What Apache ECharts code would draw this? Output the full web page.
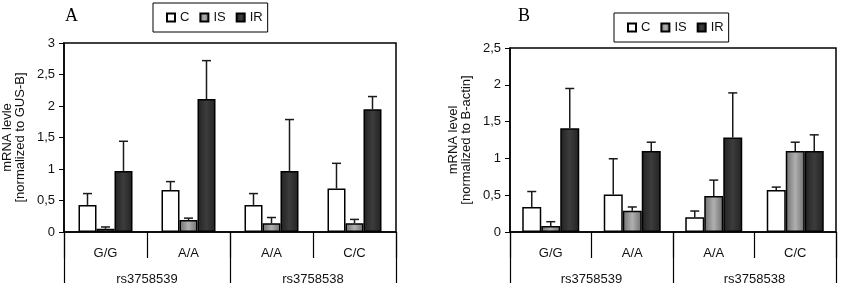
<!DOCTYPE html>
<html>
<head>
<meta charset="utf-8">
<script src="https://cdn.jsdelivr.net/npm/echarts@6/dist/echarts.min.js"></script>
<style>
  html, body { margin: 0; padding: 0; background: #fff; }
  #chart { width: 841px; height: 306px; }
</style>
</head>
<body>
<div id="chart"></div>
<script>
// categories
const genotypes = ['G/G', 'A/A', 'A/A', 'C/C']
const snps = ['rs3758539', 'rs3758538']
const seriesNames = ['C', 'IS', 'IR']

// panel A (normalized to GUS-B): means and top of error bar
const aC = [0.43, 0.665, 0.43, 0.69]
const aIS = [0.05, 0.19, 0.14, 0.14]
const aIR = [0.97, 2.11, 0.97, 1.95]
const aCTop = [0.61, 0.80, 0.61, 1.09]
const aISTop = [0.08, 0.22, 0.23, 0.20]
const aIRTop = [1.44, 2.72, 1.785, 2.15]

// panel B (normalized to B-actin)
const bC = [0.34, 0.51, 0.20, 0.57]
const bIS = [0.08, 0.29, 0.49, 1.10]
const bIR = [1.41, 1.10, 1.285, 1.10]
const bCTop = [0.55, 0.995, 0.285, 0.61]
const bISTop = [0.14, 0.34, 0.705, 1.22]
const bIRTop = [1.95, 1.22, 1.89, 1.32]

// y axis ticks
const yTicksA = [0, 0.5, 1, 1.5, 2, 2.5, 3]
const yTicksB = [0, 0.5, 1, 1.5, 2, 2.5]

const font = 'Liberation Sans, Arial, sans-serif'

// 柱子的样式
const styles = [
    { color: '#ffffff', borderColor: '#000', borderWidth: 1.5 },
    {
        color: {
            type: 'linear', x: 0, y: 0, x2: 1, y2: 0,
            colorStops: [
                { offset: 0, color: '#6e6e6e' },
                { offset: 0.5, color: '#b0b0b0' },
                { offset: 1, color: '#6e6e6e' }
            ]
        },
        borderColor: '#000', borderWidth: 1.5
    },
    {
        color: {
            type: 'linear', x: 0, y: 0, x2: 1, y2: 0,
            colorStops: [
                { offset: 0, color: '#222' },
                { offset: 0.5, color: '#3c3c3c' },
                { offset: 1, color: '#222' }
            ]
        },
        borderColor: '#000', borderWidth: 1.5
    }
]

function barSeries (name, k, values, xi, yi, bw) {
    return {
        name: name,
        type: 'bar',
        xAxisIndex: xi,
        yAxisIndex: yi,
        data: values,
        barWidth: bw,
        barGap: '0%',
        itemStyle: styles[k],
        emphasis: { disabled: true },
        z: 2
    }
}

// 误差线
function errSeries (k, values, tops, xi, yi, bw) {
    const off = (k - 1) * bw
    return {
        type: 'custom',
        xAxisIndex: xi,
        yAxisIndex: yi,
        data: values.map((v, i) => [i, v, tops[i]]),
        z: 3,
        renderItem: function (params, api) {
            const base = api.coord([api.value(0), api.value(1)])
            const top = api.coord([api.value(0), api.value(2)])
            const x = base[0] + off
            const st = { stroke: '#1a1a1a', lineWidth: 1.5 }
            return {
                type: 'group',
                children: [
                    { type: 'line', shape: { x1: x, y1: base[1], x2: x, y2: top[1] }, style: st },
                    { type: 'line', shape: { x1: x - 4.5, y1: top[1], x2: x + 4.5, y2: top[1] }, style: st }
                ]
            }
        }
    }
}

function catAxis (gi) {
    return {
        type: 'category',
        gridIndex: gi,
        data: genotypes,
        position: 'bottom',
        axisLine: { show: true, lineStyle: { color: '#000', width: 1.5 } },
        axisTick: { show: true, length: 26, lineStyle: { color: '#000', width: 1.2 } },
        axisLabel: { margin: 15, fontSize: 13, color: '#111', fontFamily: font }
    }
}

function groupAxis (gi) {
    return {
        type: 'category',
        gridIndex: gi,
        data: snps,
        position: 'bottom',
        axisLine: { show: false },
        axisTick: { show: true, length: 51, lineStyle: { color: '#000', width: 1.2 } },
        axisLabel: { margin: 41, fontSize: 13, color: '#111', fontFamily: font }
    }
}

function valAxis (gi, ticks, name) {
    return {
        type: 'value',
        gridIndex: gi,
        min: ticks[0],
        max: ticks[ticks.length - 1],
        interval: 0.5,
        name: name,
        nameLocation: 'middle',
        nameRotate: 90,
        nameGap: 37,
        nameTextStyle: { fontSize: 13, lineHeight: 13, color: '#111', fontFamily: font },
        axisLine: { show: true, lineStyle: { color: '#000', width: 1.5 } },
        axisTick: { show: true, length: 5, lineStyle: { color: '#000' } },
        splitLine: { show: false },
        axisLabel: {
            margin: 9, fontSize: 13, color: '#111', fontFamily: font,
            formatter: v => String(v).replace('.', ',')
        }
    }
}

function legend (left, top) {
    return {
        data: seriesNames,
        left: left,
        top: top,
        orient: 'horizontal',
        borderColor: '#000',
        borderWidth: 1,
        padding: [8, 5, 8, 13],
        itemWidth: 8,
        itemHeight: 8,
        itemGap: 10,
        icon: 'rect',
        selectedMode: false,
        textStyle: { fontSize: 13, color: '#111', fontFamily: font }
    }
}

const chart = echarts.init(document.getElementById('chart'))
chart.setOption({
    animation: false,
    title: [
        { text: 'A', left: 60, top: 2, textStyle: { fontFamily: 'Liberation Serif, serif', fontSize: 18, fontWeight: 'normal', color: '#000' } },
        { text: 'B', left: 513, top: 2, textStyle: { fontFamily: 'Liberation Serif, serif', fontSize: 18, fontWeight: 'normal', color: '#000' } }
    ],
    legend: [legend(153, 3), legend(614, 13)],
    grid: [
        { left: 62, right: 445, top: 43, bottom: 74, show: true, borderColor: '#000', borderWidth: 1.5, backgroundColor: 'transparent' },
        { left: 510, right: 5, top: 48, bottom: 74, show: true, borderColor: '#000', borderWidth: 1.5, backgroundColor: 'transparent' }
    ],
    xAxis: [catAxis(0), groupAxis(0), catAxis(1), groupAxis(1)],
    yAxis: [
        valAxis(0, yTicksA, 'mRNA levle\n[normalized to GUS-B]'),
        valAxis(1, yTicksB, 'mRNA level\n[normalized to B-actin]')
    ],
    series: [
        barSeries('C', 0, aC, 0, 0, 18),
        barSeries('IS', 1, aIS, 0, 0, 18),
        barSeries('IR', 2, aIR, 0, 0, 18),
        errSeries(0, aC, aCTop, 0, 0, 18),
        errSeries(1, aIS, aISTop, 0, 0, 18),
        errSeries(2, aIR, aIRTop, 0, 0, 18),
        barSeries('C', 0, bC, 2, 1, 19),
        barSeries('IS', 1, bIS, 2, 1, 19),
        barSeries('IR', 2, bIR, 2, 1, 19),
        errSeries(0, bC, bCTop, 2, 1, 19),
        errSeries(1, bIS, bISTop, 2, 1, 19),
        errSeries(2, bIR, bIRTop, 2, 1, 19)
    ]
})
</script>
</body>
</html>
